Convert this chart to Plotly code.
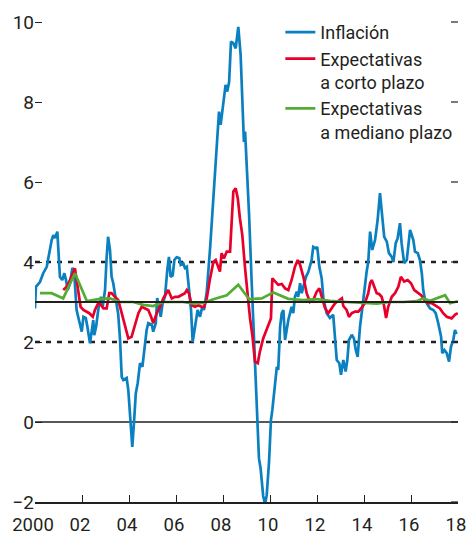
import plotly.graph_objects as go

# ---- data (decimal years) ----
infl_x = [2000.00, 2000.04, 2000.21, 2000.35, 2000.50, 2000.57, 2000.71, 2000.78, 2000.85, 2000.95,
          2000.99, 2001.06, 2001.16, 2001.25, 2001.32, 2001.39, 2001.49, 2001.59, 2001.66, 2001.73,
          2001.77, 2001.87, 2001.99, 2002.06, 2002.16, 2002.23, 2002.34, 2002.41, 2002.48, 2002.52,
          2002.60, 2002.69, 2002.81, 2002.88, 2002.98, 2003.05, 2003.11, 2003.19, 2003.26, 2003.33,
          2003.45, 2003.54, 2003.62, 2003.69, 2003.76, 2003.90, 2003.97, 2004.04, 2004.14, 2004.21,
          2004.29, 2004.37, 2004.47, 2004.57, 2004.65, 2004.75, 2004.82, 2004.97, 2005.03, 2005.14,
          2005.20, 2005.28, 2005.35, 2005.43, 2005.53, 2005.63, 2005.70, 2005.77, 2005.86, 2005.93,
          2006.03, 2006.14, 2006.20, 2006.31, 2006.38, 2006.46, 2006.55, 2006.64, 2006.71, 2006.81,
          2006.92, 2007.02, 2007.12, 2007.19, 2007.31, 2007.45, 2007.59, 2007.73, 2007.83, 2007.90,
          2008.01, 2008.11, 2008.18, 2008.26, 2008.34, 2008.44, 2008.54, 2008.65, 2008.75, 2008.84,
          2008.89, 2008.94, 2009.01, 2009.11, 2009.22, 2009.33, 2009.43, 2009.53, 2009.60, 2009.71,
          2009.79, 2009.86, 2009.96, 2010.04, 2010.10, 2010.21, 2010.29, 2010.35, 2010.43, 2010.50,
          2010.57, 2010.64, 2010.78, 2010.92, 2010.99, 2011.06, 2011.14, 2011.20, 2011.28, 2011.35,
          2011.42, 2011.53, 2011.63, 2011.77, 2011.84, 2011.96, 2012.01, 2012.10, 2012.20, 2012.27,
          2012.41, 2012.55, 2012.69, 2012.77, 2012.84, 2012.95, 2013.02, 2013.12, 2013.22, 2013.29,
          2013.36, 2013.48, 2013.57, 2013.65, 2013.73, 2013.83, 2013.90, 2013.97, 2014.11, 2014.18,
          2014.26, 2014.35, 2014.47, 2014.58, 2014.68, 2014.78, 2014.86, 2014.97, 2015.06, 2015.18,
          2015.25, 2015.35, 2015.43, 2015.53, 2015.60, 2015.71, 2015.82, 2015.96, 2016.10, 2016.17,
          2016.29, 2016.38, 2016.46, 2016.52, 2016.60, 2016.71, 2016.81, 2016.95, 2017.05, 2017.16,
          2017.28, 2017.33, 2017.42, 2017.52, 2017.62, 2017.70, 2017.80, 2017.87, 2017.94]
infl_y = [2.84, 3.38, 3.50, 3.72, 3.88, 4.13, 4.55, 4.67, 4.60, 4.76,
          4.38, 3.63, 3.55, 3.72, 3.55, 3.30, 3.47, 3.85, 3.80, 3.30,
          2.80, 2.55, 2.26, 2.63, 2.60, 2.38, 1.97, 2.26, 2.55, 2.17,
          2.38, 2.80, 3.13, 2.88, 3.30, 4.13, 4.63, 4.30, 3.63, 3.47,
          3.05, 2.70, 2.05, 1.13, 1.05, 1.10, 0.80, 0.13, -0.62, -0.03,
          0.72, 0.97, 1.47, 1.38, 1.80, 2.30, 2.47, 2.43, 2.26, 2.47,
          3.10, 2.88, 2.63, 2.97, 3.13, 3.80, 4.13, 3.63, 3.67, 4.05,
          4.12, 4.10, 3.93, 3.97, 3.85, 3.88, 3.30, 2.80, 2.00, 2.38,
          2.80, 2.63, 2.88, 2.80, 3.26, 4.34, 5.50, 6.84, 7.76, 7.43,
          7.93, 8.43, 8.26, 8.50, 9.51, 9.47, 9.34, 9.88, 9.18, 8.00,
          7.00, 7.26, 6.50, 5.18, 3.50, 1.84, 0.18, -0.91, -1.16, -1.85,
          -2.05, -1.83, -0.99, 0.05, 0.30, 0.88, 1.38, 1.30, 2.38, 2.72,
          2.80, 2.05, 2.55, 2.88, 2.72, 3.13, 3.26, 3.13, 3.47, 3.22,
          3.38, 3.63, 3.75, 4.05, 4.38, 4.34, 4.38, 3.88, 3.59, 3.10,
          2.72, 2.60, 2.68, 2.10, 1.55, 1.47, 1.18, 1.55, 1.26, 1.55,
          2.05, 2.18, 2.09, 1.80, 1.63, 2.38, 2.80, 3.05, 3.75, 4.00,
          4.76, 4.30, 4.55, 5.05, 5.72, 5.05, 4.63, 4.51, 4.22, 4.13,
          4.00, 4.47, 4.59, 4.97, 4.47, 3.97, 4.05, 4.80, 4.55, 4.26,
          4.22, 4.05, 3.72, 3.30, 3.05, 2.93, 2.84, 2.80, 2.72, 2.47,
          2.13, 1.72, 1.80, 1.72, 1.51, 1.88, 2.05, 2.30, 2.20]

short_x = [2001.20, 2001.35, 2001.49, 2001.60, 2001.70, 2001.77, 2001.84, 2001.94, 2002.06, 2002.20,
           2002.31, 2002.46, 2002.55, 2002.69, 2002.80, 2002.91, 2003.05, 2003.16, 2003.26, 2003.40,
           2003.54, 2003.69, 2003.83, 2003.97, 2004.11, 2004.26, 2004.40, 2004.54, 2004.68, 2004.82,
           2004.94, 2005.03, 2005.18, 2005.32, 2005.46, 2005.60, 2005.67, 2005.82, 2005.96, 2006.10,
           2006.24, 2006.38, 2006.46, 2006.55, 2006.67, 2006.81, 2006.95, 2007.09, 2007.20, 2007.31,
           2007.45, 2007.59, 2007.69, 2007.80, 2007.87, 2007.94, 2008.04, 2008.16, 2008.30, 2008.37,
           2008.44, 2008.54, 2008.63, 2008.72, 2008.82, 2008.94, 2009.05, 2009.15, 2009.25, 2009.36,
           2009.48, 2009.57, 2009.71, 2009.83, 2009.96, 2010.04, 2010.10, 2010.21, 2010.35, 2010.50,
           2010.64, 2010.78, 2010.92, 2011.06, 2011.18, 2011.28, 2011.42, 2011.56, 2011.70, 2011.84,
           2011.99, 2012.10, 2012.20, 2012.34, 2012.48, 2012.63, 2012.77, 2012.91, 2013.06, 2013.12,
           2013.26, 2013.36, 2013.48, 2013.62, 2013.76, 2013.90, 2014.04, 2014.18, 2014.26, 2014.33,
           2014.44, 2014.54, 2014.64, 2014.75, 2014.85, 2014.94, 2015.03, 2015.18, 2015.32, 2015.46,
           2015.57, 2015.71, 2015.86, 2016.00, 2016.14, 2016.29, 2016.43, 2016.57, 2016.71, 2016.88,
           2017.09, 2017.23, 2017.37, 2017.52, 2017.73, 2017.87, 2017.99]
short_y = [3.30, 3.38, 3.55, 3.72, 3.84, 3.55, 3.22, 2.88, 2.80, 2.76,
           2.72, 2.63, 2.80, 2.97, 2.93, 2.84, 2.84, 3.22, 3.22, 3.13,
           3.05, 2.72, 2.38, 2.09, 2.13, 2.47, 2.72, 2.88, 2.84, 2.80,
           2.63, 2.47, 2.72, 2.88, 3.09, 3.22, 3.30, 3.09, 3.13, 3.13,
           3.17, 3.22, 3.30, 3.22, 2.92, 2.88, 2.92, 2.88, 2.88, 3.09,
           3.59, 4.00, 4.05, 3.84, 3.76, 4.22, 4.09, 4.26, 4.26, 5.01,
           5.76, 5.84, 5.59, 5.09, 4.68, 3.84, 3.09, 2.59, 2.17, 1.51,
           1.47, 1.76, 2.09, 2.26, 2.47, 2.59, 3.59, 3.51, 3.43, 3.45,
           3.34, 3.30, 3.55, 3.88, 4.05, 3.93, 3.63, 3.22, 3.00, 3.05,
           3.26, 3.34, 3.13, 2.85, 2.72, 2.85, 2.97, 3.03, 3.09, 2.90,
           2.80, 2.63, 2.72, 2.76, 2.76, 2.86, 2.97, 3.22, 3.47, 3.55,
           3.38, 3.22, 3.20, 3.13, 2.92, 2.60, 2.88, 3.13, 3.22, 3.38,
           3.63, 3.51, 3.55, 3.47, 3.30, 3.22, 3.17, 3.05, 2.97, 2.97,
           2.88, 2.84, 2.72, 2.63, 2.59, 2.68, 2.72]

medium_x = [2000.21, 2000.71, 2001.20, 2001.70, 2002.21, 2002.77, 2003.19, 2003.62, 2004.18, 2004.61,
            2005.03, 2005.46, 2005.89, 2006.31, 2006.74, 2007.16, 2007.66, 2008.16, 2008.65, 2009.11,
            2009.65, 2010.14, 2010.78, 2011.42, 2011.99, 2012.55, 2013.26, 2013.97, 2014.54, 2015.11,
            2015.67, 2016.24, 2016.52, 2016.81, 2017.09, 2017.45, 2017.66, 2018.00]
medium_y = [3.22, 3.22, 3.09, 3.72, 3.02, 3.08, 3.09, 3.00, 3.00, 2.93,
            2.90, 3.00, 3.00, 3.00, 2.96, 2.98, 3.08, 3.17, 3.43, 3.07,
            3.09, 3.24, 3.08, 3.05, 3.07, 3.03, 3.00, 2.98, 2.96, 3.00,
            3.00, 3.02, 3.09, 3.03, 3.09, 3.17, 2.97, 3.02]

series_names = ["Inflación", "Expectativas<br>a corto plazo", "Expectativas<br>a mediano plazo"]
series_colors = ["#0a80c0", "#e8002a", "#52ad32"]

target = 3
band = [2, 4]
zero = 0

x_ticks = [2000, 2002, 2004, 2006, 2008, 2010, 2012, 2014, 2016, 2018]
x_tick_labels = ["2000", "02", "04", "06", "08", "10", "12", "14", "16", "18"]
y_ticks = [-2, 0, 2, 4, 6, 8, 10]
y_tick_labels = ["\u22122", "0", "2", "4", "6", "8", "10"]

FONT = "Roboto, Liberation Sans, sans-serif"
TXT = "#231f20"
Y_RANGE = [-2, 10.3]
PLOT_W = 467 - 35 - 9
TICK_LEN = 7

fig = go.Figure()
for xs, ys, name, col in [(infl_x, infl_y, series_names[0], series_colors[0]),
                          (short_x, short_y, series_names[1], series_colors[1]),
                          (medium_x, medium_y, series_names[2], series_colors[2])]:
    fig.add_trace(go.Scatter(x=xs, y=ys, mode="lines", name=name,
                             line=dict(color=col, width=2.7), cliponaxis=True))

# reference lines
fig.add_shape(type="line", xref="paper", x0=0, x1=1, yref="y", y0=zero, y1=zero,
              line=dict(color="#231f20", width=1.3), layer="below")
for b in band:
    fig.add_shape(type="line", xref="paper", x0=0, x1=1, yref="y", y0=b, y1=b,
                  line=dict(color="#231f20", width=2.4, dash="5px,6px"), layer="below")
fig.add_shape(type="line", xref="paper", x0=0, x1=1, yref="y", y0=target, y1=target,
              line=dict(color="#231f20", width=2.2), layer="above")

# right-hand tick marks (mirrors of the y ticks, no labels)
for v in y_ticks:
    fig.add_shape(type="line", xref="paper", x0=1 - TICK_LEN / PLOT_W, x1=1, yref="y", y0=v, y1=v,
                  line=dict(color=TXT, width=1.2), layer="above")

fig.update_layout(
    width=467, height=537,
    margin=dict(l=35, r=9, t=10, b=35, autoexpand=False),
    paper_bgcolor="white", plot_bgcolor="white",
    font=dict(family=FONT, size=18, color=TXT),
    showlegend=True,
    legend=dict(x=0.58, y=0.992, xanchor="left", yanchor="top", bgcolor="rgba(0,0,0,0)",
                font=dict(family=FONT, size=18, color=TXT), itemwidth=30,
                valign="top", tracegroupgap=0, traceorder="normal"),
    xaxis=dict(range=[2000, 2018], tickvals=x_ticks, ticktext=x_tick_labels, automargin=False,
               showgrid=False, zeroline=False, showline=True, linecolor=TXT, linewidth=1.5,
               ticks="inside", ticklen=TICK_LEN, tickwidth=1.2, tickcolor=TXT,
               ticklabeloverflow="allow", ticklabelshift=-2,
               tickfont=dict(family=FONT, size=18.5, color=TXT), ticklabelstandoff=5),
    yaxis=dict(range=Y_RANGE, tickvals=y_ticks, ticktext=y_tick_labels, automargin=False,
               showgrid=False, zeroline=False, showline=False,
               ticks="inside", ticklen=TICK_LEN, tickwidth=1.2, tickcolor=TXT,
               tickfont=dict(family=FONT, size=19, color=TXT), ticklabelstandoff=0),
)

fig.write_html("out.html", config={"displayModeBar": False},
               post_script="document.body.style.margin='0px';")
